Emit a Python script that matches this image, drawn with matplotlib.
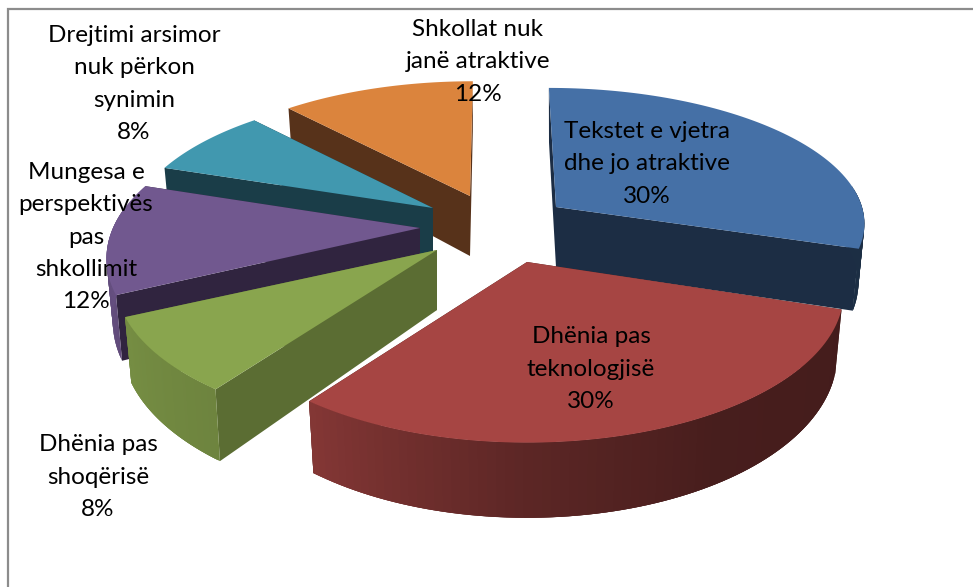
import numpy as np
import matplotlib
matplotlib.use("Agg")
import matplotlib.pyplot as plt

plt.rcParams["font.family"] = ["Lato", "DejaVu Sans"]

# data, clockwise from 12 o'clock
labels = [
    "Tekstet e vjetra\ndhe jo atraktive",
    "Dhënia pas\nteknologjisë",
    "Dhënia pas\nshoqërisë",
    "Mungesa e\nperspektivës\npas\nshkollimit",
    "Drejtimi arsimor\nnuk përkon\nsynimin",
    "Shkollat nuk\njanë atraktive",
]
values = [30, 30, 8, 12, 8, 12]

# styling per slice
top_colors = ["#4570A6", "#A64543", "#89A54E", "#71588F", "#4198AF", "#DB843D"]
wall_colors = ["#1C2D44", "#431C1A", "#5B6D33", "#30243F", "#1A3D48", "#57321A"]
apex = [(556, 207), (527, 262), (437, 250), (420, 228), (433, 208), (470, 196)]
radius_x = [306, 310, 315, 307, 300, 308]
radius_y = [131, 144, 144, 144, 138, 138]
persp = [0.1, 0.2027, 0.2027, 0.2027, 0.2027, 0.2027]
shear = [0.06, 0, 0, 0, 0, -0.025]
label_xy = [(647, 164), (591, 369), (98, 477), (86, 237), (134, 84), (478, 62)]
draw_order = [5, 0, 4, 3, 2, 1]

DEPTH, SHRINK = 60, 0.98


def project(theta, i):
    """Top-face point of slice i for clockwise angle theta (deg from top), with perspective."""
    cx, cy = apex[i]
    t = np.radians(theta)
    u, v = np.sin(t), -np.cos(t)
    s = 1 / (1 - persp[i] * v)
    y = radius_y[i] * v * s
    return cx + radius_x[i] * u * s + shear[i] * y, cy + y, s


def drop(x, y, s, cx):
    """Same point on the bottom face."""
    return cx + (x - cx) * SHRINK, y + DEPTH * s


def darken(color, f):
    return tuple(c * f for c in matplotlib.colors.to_rgb(color))


def rim_factor(theta):
    return np.interp(theta, [108, 150, 180, 216, 245, 290], [0.41, 0.43, 0.56, 0.8, 0.86, 0.95])


fig, ax = plt.subplots(figsize=(9.73, 5.87), dpi=100)
ax.set_position([0, 0, 1, 1])
ax.set_xlim(0, 973)
ax.set_ylim(587, 0)
ax.axis("off")

# chart frame
ax.plot([8, 8, 973], [587, 8.5, 8.5], color="#8C8C8C", lw=1.6, solid_joinstyle="miter")

edges = np.cumsum([0] + values) * 3.6
for order, i in enumerate(draw_order):
    zo = 2 + order
    cx, cy = apex[i]
    thetas = np.linspace(edges[i], edges[i + 1], 80)
    xs, ys, ss = project(thetas, i)
    bx, by = drop(xs, ys, ss, cx)

    # radial walls
    for k in (0, -1):
        ax.fill([cx, xs[k], bx[k], cx], [cy, ys[k], by[k], cy + DEPTH],
                color=wall_colors[i], lw=0, zorder=zo)

    # outer rim, shaded along the angle; quads overlap so no seams show
    for k in range(len(thetas) - 1):
        if ys[k] < cy - 20 and ys[k + 1] < cy - 20:
            continue
        c = darken(top_colors[i], rim_factor(thetas[k]))
        j = min(k + 3, len(thetas) - 1)
        ax.fill([xs[k], xs[j], bx[j], bx[k]],
                [ys[k], ys[j], by[j], by[k]], color=c, lw=0, zorder=zo)

    # top face
    ax.fill(np.r_[cx, xs], np.r_[cy, ys], color=top_colors[i], lw=0, zorder=zo)

for name, val, (x, y) in zip(labels, values, label_xy):
    ax.text(x, y, f"{name}\n{val}%", ha="center", va="center", fontsize=17.5,
            linespacing=1.66, color="black", zorder=20)

fig.savefig("out.png", dpi=100, facecolor="white")
